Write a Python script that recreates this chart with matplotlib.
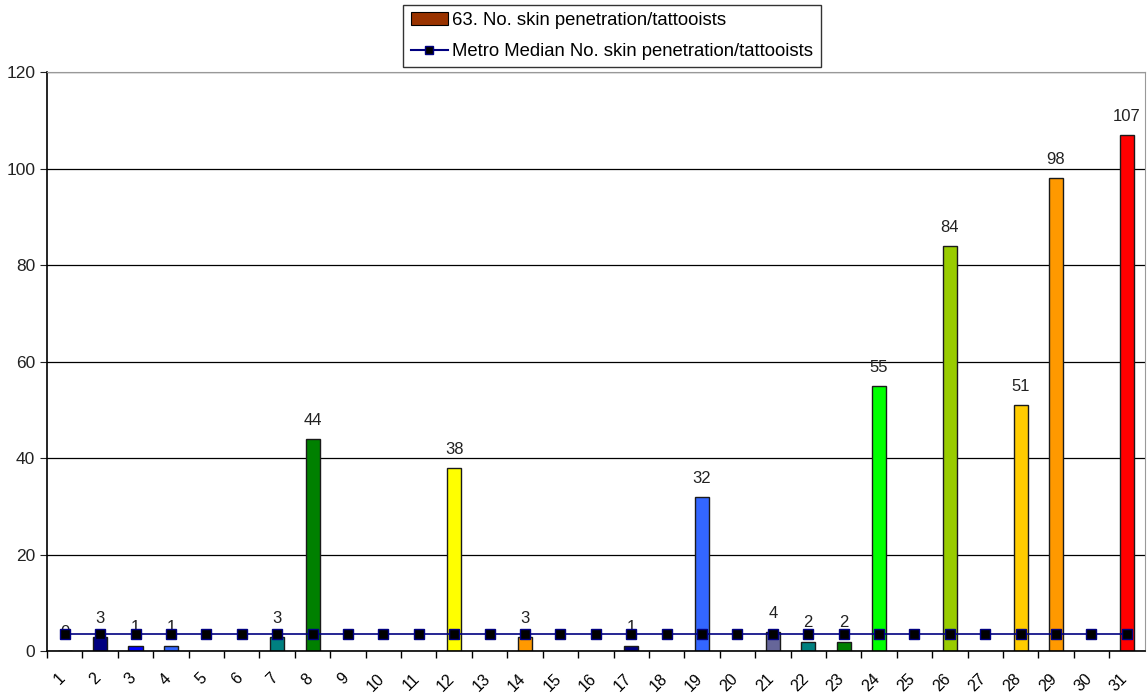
import numpy as np
import matplotlib.pyplot as plt
import matplotlib.transforms as mtransforms
from matplotlib.patches import Patch
from matplotlib.lines import Line2D

plt.rcParams['font.family'] = ['Liberation Sans', 'DejaVu Sans']

# Counts per area (None = no bar drawn)
cats = list(range(1, 32))
values = [0, 3, 1, 1, None, None, 3, 44, None, None, None, 38, None, 3, None,
          None, 1, None, 32, None, 4, 2, 2, 55, None, 84, None, 51, 98, None, 107]
colors = ['#000080', '#000080', '#0000FF', '#3366FF', 'w', 'w', '#008080', '#008000',
          'w', 'w', 'w', '#FFFF00', 'w', '#FF9900', 'w', 'w', '#000080', 'w', '#3366FF',
          'w', '#666699', '#008080', '#008000', '#00FF00', 'w', '#99CC00', 'w', '#FFCC00',
          '#FF9900', 'w', '#FF0000']
median = [3.5] * 31

fig = plt.figure(figsize=(11.48, 6.95), dpi=100)
ax = fig.add_axes([0.041, 0.063, 0.956, 0.833])

x = np.arange(len(cats))
for i, v in enumerate(values):
    if v is None:
        continue
    ax.bar(x[i], v, width=0.4, color=colors[i], edgecolor='#1a1a1a', linewidth=1.0, zorder=2)
    ax.annotate(str(v), (x[i], v), xytext=(0, 8), textcoords='offset points',
                ha='center', va='bottom', fontsize=12, color='#222222', zorder=1)

ax.plot(x, median, color='#000080', linewidth=1.2, marker='s', markersize=7,
        markerfacecolor='black', markeredgecolor='#000080', zorder=3)

ax.set_xlim(-0.5, len(cats) - 0.5)
ax.set_ylim(0, 120)
ax.set_yticks(range(0, 121, 20))
ax.tick_params(axis='y', labelsize=12.5, length=5, direction='out', colors='#222222')
ax.yaxis.grid(True, color='black', linewidth=0.9)
ax.set_axisbelow(True)

# boundary tick marks between categories, labels near centers
ax.set_xticks(x - 0.5, minor=True)
ax.set_xticks(x)
ax.set_xticklabels([str(c) for c in cats], rotation=45, ha='right', va='top',
                   rotation_mode='anchor', fontsize=11.5)
ax.tick_params(axis='x', which='major', length=0, pad=14)
ax.tick_params(axis='x', which='minor', length=5, width=1)
shift = mtransforms.ScaledTranslation(-7 / 100, 0, fig.dpi_scale_trans)
for lbl in ax.get_xticklabels():
    lbl.set_transform(lbl.get_transform() + shift)

for s in ['top', 'right']:
    ax.spines[s].set_color('#999999')
ax.spines['left'].set_color('black')
ax.spines['bottom'].set_color('black')
ax.spines['left'].set_linewidth(1.2)
ax.spines['bottom'].set_linewidth(1.2)

handles = [Patch(facecolor='#993300', edgecolor='black', linewidth=0.8),
           Line2D([], [], color='#000080', marker='s', markersize=6,
                  markerfacecolor='black', markeredgecolor='#000080')]
labels = ['63. No. skin penetration/tattooists', 'Metro Median No. skin penetration/tattooists']
leg = fig.legend(handles, labels, loc='upper center', bbox_to_anchor=(0.533, 0.993),
                 fontsize=13.3, frameon=True, fancybox=False, edgecolor='black',
                 handlelength=2.0, handletextpad=0.25, borderpad=0.4, labelspacing=0.75,
                 borderaxespad=0.0)
leg.get_frame().set_linewidth(1.0)

fig.savefig('out.png', dpi=100)
